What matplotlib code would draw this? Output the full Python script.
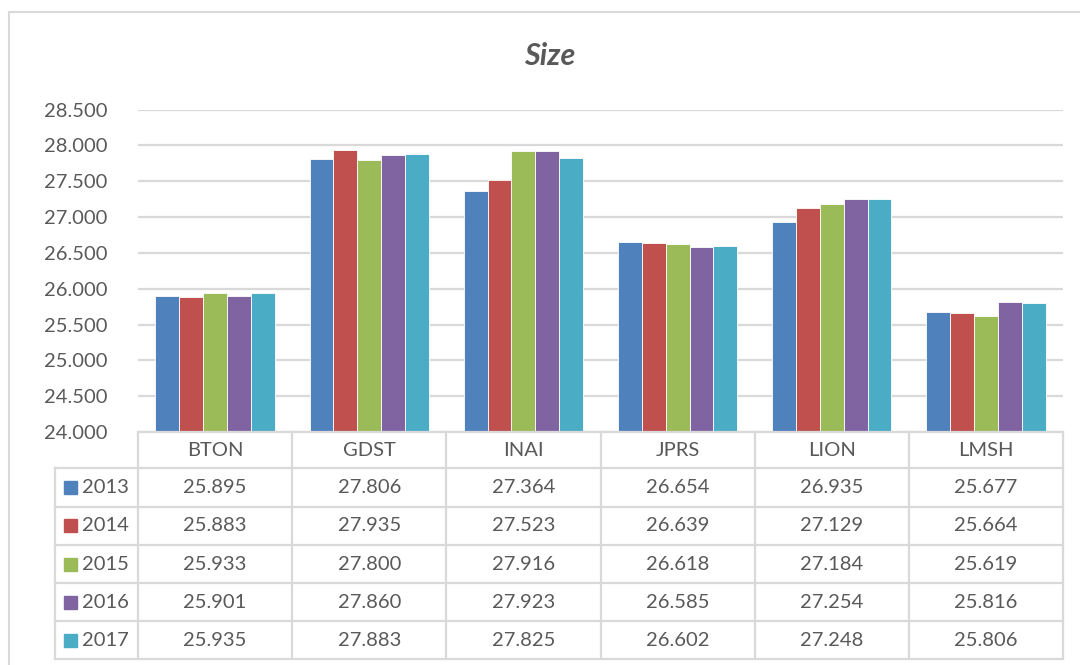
import numpy as np
import matplotlib.pyplot as plt
from matplotlib.patches import Rectangle

# data
companies = ['BTON', 'GDST', 'INAI', 'JPRS', 'LION', 'LMSH']
years = ['2013', '2014', '2015', '2016', '2017']
v2013 = [25.895, 27.806, 27.364, 26.654, 26.935, 25.677]
v2014 = [25.883, 27.935, 27.523, 26.639, 27.129, 25.664]
v2015 = [25.933, 27.800, 27.916, 26.618, 27.184, 25.619]
v2016 = [25.901, 27.860, 27.923, 26.585, 27.254, 25.816]
v2017 = [25.935, 27.883, 27.825, 26.602, 27.248, 25.806]
series = [v2013, v2014, v2015, v2016, v2017]
colors = ['#4F81BD', '#C0504D', '#9BBB59', '#8064A2', '#4BACC6']

W, H = 1080, 665
txt = '#595959'
grid = '#D9D9D9'
fs = 14.5
plt.rcParams['font.family'] = ['Lato', 'DejaVu Sans']

fig = plt.figure(figsize=(W / 100, H / 100), dpi=100)

def fx(px):
    return px / W

def fy(py):
    return 1 - py / H

# plot area
left, right, top, bottom = 138, 1063, 109.5, 432
ax = fig.add_axes([fx(left), fy(bottom), fx(right) - fx(left), fy(top) - fy(bottom)])

x = np.arange(len(companies))
bw = 0.155
for i, vals in enumerate(series):
    ax.bar(x + (i - 2) * bw, vals, width=bw, color=colors[i],
           edgecolor='white', linewidth=0.6, zorder=3)

ax.set_xlim(-0.5, len(companies) - 0.5)
ax.set_ylim(24, 28.5)
ax.set_yticks(np.arange(24, 28.51, 0.5))
ax.set_yticklabels(['%.3f' % t for t in np.arange(24, 28.51, 0.5)])
ax.yaxis.grid(True, color=grid, linewidth=1.6, zorder=0)
ax.set_xticks([])
ax.tick_params(axis='y', length=0, pad=22, labelsize=fs, labelcolor=txt)
for s in ax.spines.values():
    s.set_visible(False)

fig.text(fx(550), fy(56), 'Size', ha='center', va='center', fontsize=22,
         fontweight='bold', fontstyle='italic', color=txt)

# outer chart border (top and left visible)
fig.add_artist(plt.Line2D([fx(9), fx(1080)], [fy(11.5), fy(11.5)],
                          color=grid, lw=1.5, transform=fig.transFigure))
fig.add_artist(plt.Line2D([fx(9), fx(9)], [fy(11.5), fy(665)],
                          color=grid, lw=1.5, transform=fig.transFigure))

# data table
col_w = (right - left) / len(companies)
row_edges = [468, 506.5, 545, 583, 621, 659]
leg_left = 55

def hline(y, x0, x1):
    fig.add_artist(plt.Line2D([fx(x0), fx(x1)], [fy(y), fy(y)], color=grid,
                              lw=1.6, transform=fig.transFigure))

def vline(xp, y0, y1):
    fig.add_artist(plt.Line2D([fx(xp), fx(xp)], [fy(y0), fy(y1)], color=grid,
                              lw=1.6, transform=fig.transFigure))

hline(bottom, left, right)
for y in row_edges:
    hline(y, leg_left, right)
for j in range(len(companies) + 1):
    vline(left + j * col_w, bottom, row_edges[-1])
vline(leg_left, row_edges[0], row_edges[-1])

for j, c in enumerate(companies):
    fig.text(fx(left + (j + 0.5) * col_w), fy(450), c, ha='center', va='center',
             fontsize=fs, color=txt)

for i, vals in enumerate(series):
    yc = (row_edges[i] + row_edges[i + 1]) / 2
    fig.add_artist(Rectangle((fx(64), fy(yc + 6.5)), fx(13), 13 / H,
                             color=colors[i], transform=fig.transFigure))
    fig.text(fx(82), fy(yc), years[i], ha='left', va='center', fontsize=fs, color=txt)
    for j, v in enumerate(vals):
        fig.text(fx(left + (j + 0.5) * col_w), fy(yc), '%.3f' % v, ha='center',
                 va='center', fontsize=fs, color=txt)

fig.savefig('out.png', dpi=100)
